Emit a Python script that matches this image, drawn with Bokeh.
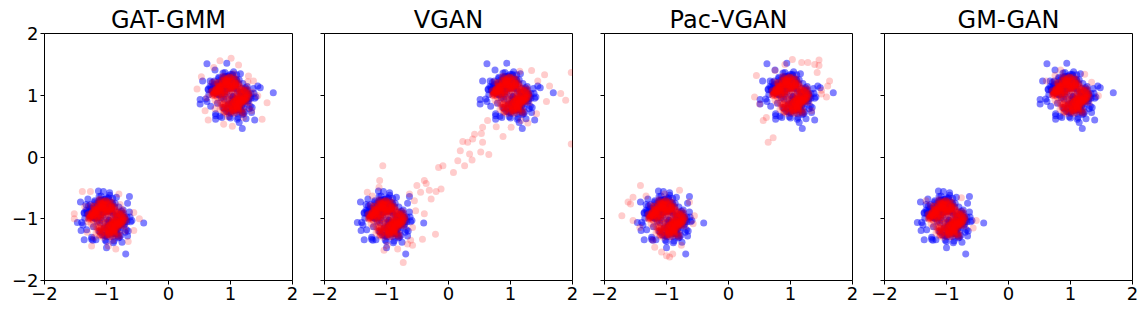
from bokeh.plotting import figure
from bokeh.layouts import row
from bokeh.models import Range1d, FixedTicker
from bokeh.embed import file_html
from bokeh.resources import INLINE

titles = ["GAT-GMM", "VGAN", "Pac-VGAN", "GM-GAN"]
ticks = [-2, -1, 0, 1, 2]
tick_labels = ["\u22122", "\u22121", "0", "1", "2"]

# the two modes of the mixture
mode_x = [1.0, -1.0]
mode_y = [1.0, -1.0]

# ---- real data (blue): sample spread around each mode ----
real_offset_x = [
    0.03, -0.12, 0.18, -0.05, 0.09, -0.22, 0.01, 0.14, -0.08, 0.27,
    -0.16, 0.06, -0.02, 0.11, -0.31, 0.20, -0.09, 0.04, 0.15, -0.13,
    0.00, 0.24, -0.19, 0.07, -0.04, 0.12, -0.26, 0.17, -0.07, 0.02,
    0.33, -0.11, 0.08, -0.17, 0.05, -0.01, 0.21, -0.14, 0.10, -0.24,
    -0.06, 0.13, -0.36, 0.16, 0.03, -0.20, 0.09, 0.29, -0.10, 0.06,
    -0.03, 0.19, -0.15, 0.01, 0.23, -0.08, 0.11, -0.28, 0.14, -0.02,
    0.07, -0.18, 0.26, -0.05, -0.12, 0.04, 0.38, -0.21, 0.02, 0.15,
    -0.09, 0.10, -0.33, 0.18, -0.01, 0.08, -0.16, 0.22, -0.04, 0.12,
    0.05, -0.25, 0.16, -0.07, 0.30, -0.13, 0.00, 0.09, -0.19, 0.41,
    -0.21, 0.08, 0.27, -0.03, 0.14, -0.30, 0.19, -0.12, 0.05, 0.33,
    -0.17, 0.24, -0.08, 0.11, -0.26, 0.02, 0.16, -0.35, 0.09, -0.14,
    0.29, -0.05, 0.13, -0.22, 0.21, -0.10, 0.04, 0.37, -0.19, 0.07,
    -0.31, 0.15, -0.02, 0.25, -0.13, 0.10, -0.40, 0.18, -0.06, 0.23,
    -0.11, 0.31, -0.24, 0.06, -0.16, 0.35, -0.04, 0.12, -0.28, 0.20,
    0.01, -0.18, 0.26, -0.09, 0.17, -0.33, 0.22, -0.01, 0.14, -0.23,
    0.32, -0.15, 0.03, -0.27, 0.28, -0.07, 0.09, -0.20, 0.39, -0.12,
    -0.03, 0.19, -0.36, 0.24, -0.10, 0.06, 0.30, -0.25, 0.11, -0.17,
    0.16, -0.29, 0.04, -0.08, 0.26, -0.21, 0.13, 0.34, -0.14, 0.00,
    -0.38, 0.21, -0.06, 0.18, -0.24, 0.08, -0.15, 0.29, -0.02, 0.15,
    -0.19, 0.12, 0.27, -0.11, 0.05, -0.32, 0.23, -0.04, 0.17, -0.26]
real_offset_y = [
    -0.08, 0.15, 0.04, -0.21, 0.11, 0.02, -0.14, 0.25, -0.03, 0.09,
    0.19, -0.06, -0.27, 0.07, 0.13, -0.11, 0.30, -0.02, -0.17, 0.05,
    0.12, -0.09, 0.01, 0.22, -0.15, -0.04, 0.08, -0.24, 0.16, -0.01,
    -0.05, 0.28, -0.12, 0.03, -0.19, 0.14, -0.07, 0.10, 0.24, -0.30,
    0.06, -0.16, 0.09, -0.03, 0.34, 0.18, -0.10, 0.02, -0.22, 0.13,
    -0.13, 0.04, 0.20, -0.26, 0.00, 0.11, -0.08, 0.15, 0.05, -0.35,
    0.17, 0.08, -0.02, 0.27, -0.20, -0.12, 0.03, 0.10, -0.06, -0.14,
    0.02, -0.29, 0.14, -0.07, 0.21, -0.18, 0.06, -0.01, 0.31, -0.09,
    0.10, 0.04, -0.23, 0.16, -0.05, 0.12, -0.37, 0.26, 0.01, -0.03,
    0.14, -0.25, 0.06, 0.31, -0.17, 0.09, -0.28, 0.20, -0.11, 0.03,
    -0.34, 0.12, 0.26, -0.07, 0.18, -0.21, 0.35, 0.01, -0.15, 0.24,
    -0.09, 0.29, -0.19, 0.04, -0.30, 0.16, -0.03, 0.11, 0.27, -0.13,
    0.08, -0.23, 0.21, -0.38, 0.13, 0.33, -0.06, -0.16, 0.22, -0.27,
    0.30, -0.02, 0.17, -0.12, 0.25, -0.20, 0.10, -0.36, 0.05, 0.19,
    -0.29, 0.15, -0.08, 0.37, -0.04, 0.23, -0.14, 0.28, -0.24, 0.07,
    -0.18, 0.02, 0.32, 0.13, -0.11, -0.26, 0.20, 0.09, -0.05, 0.36,
    0.24, -0.31, 0.10, -0.01, 0.16, 0.27, -0.22, 0.06, -0.39, 0.12,
    -0.07, 0.21, -0.16, 0.30, 0.03, -0.13, 0.19, -0.28, 0.08, 0.34,
    -0.10, -0.20, 0.25, 0.11, -0.33, 0.17, -0.04, 0.01, 0.22, -0.15,
    0.29, -0.24, 0.14, -0.06, 0.38, -0.18, 0.09, -0.27, 0.04, 0.23]
# isolated real points far from the centre of each mode
real_outlier_x = [0.62, 0.94, 1.69, 1.19, 1.14, 1.39, 0.51, 0.51, 0.55, 1.44,
                  1.48, 0.75, 0.76, 0.86,
                  -1.00, -0.69, -0.40, -0.63, -1.13, -1.42, -1.41, -1.36, -1.47,
                  -1.05, -0.95, -1.30, -0.66, -1.22]
real_outlier_y = [1.51, 1.52, 1.04, 0.46, 0.56, 0.60, 0.86, 0.93, 1.23, 1.15,
                  1.12, 1.41, 0.61, 0.64,
                  -1.47, -1.57, -1.07, -0.64, -0.55, -0.73, -1.19, -1.34, -1.06,
                  -0.56, -0.58, -0.68, -0.75, -1.35]

# ---- generated data (red): dense core of each mode ----
gen_offset_x = [
    0.02, -0.07, 0.11, -0.04, 0.15, -0.13, 0.06, -0.01, 0.09, -0.18,
    0.13, -0.03, -0.10, 0.05, 0.00, 0.20, -0.15, 0.08, -0.06, 0.03,
    -0.11, 0.07, 0.17, -0.02, -0.19, 0.10, 0.04, -0.08, 0.14, -0.05,
    0.01, -0.14, 0.06, 0.22, -0.09, 0.03, -0.04, 0.12, -0.16, 0.08,
    -0.01, 0.16, -0.12, 0.05, 0.09, -0.06, -0.21, 0.13, 0.02, -0.09,
    0.10, -0.05, 0.19, -0.13, 0.04, -0.02, 0.07, -0.17, 0.11, 0.00,
    -0.08, 0.14, 0.03, -0.10, 0.24, -0.03, 0.06, -0.14, 0.01, 0.12,
    0.05, -0.20, 0.09, -0.06, -0.01, 0.15, -0.11, 0.02, 0.18, -0.04,
    -0.12, 0.08, 0.00, 0.13, -0.07, -0.16, 0.10, 0.04, -0.03, 0.21,
    0.07, -0.09, -0.24, 0.11, 0.03, -0.05, 0.16, -0.02, -0.13, 0.06,
    0.12, -0.19, 0.05, 0.24, -0.08, -0.15, 0.20, -0.03, 0.09, -0.26,
    0.17, -0.11, -0.22, 0.01, 0.14, 0.28, -0.06, -0.17, 0.07, 0.21,
    -0.13, 0.03, -0.28, 0.18, -0.01, 0.11, -0.20, 0.25, -0.09, 0.06,
    -0.24, 0.16, 0.02, -0.14, 0.23, -0.05, 0.10, -0.18, 0.30, -0.10,
    0.04, -0.27, 0.19, -0.07, 0.13, -0.21, 0.26, 0.00, -0.12, 0.15,
    -0.16, 0.22, -0.04, 0.09, -0.30, 0.18, -0.02, 0.12, -0.23, 0.27,
    0.08, -0.09, 0.31, -0.19, 0.03, 0.16, -0.25, 0.06, -0.11, 0.20,
    -0.06, 0.13, -0.17, 0.24, -0.02, -0.29, 0.11, 0.19, -0.14, 0.05,
    0.23, -0.20, 0.08, -0.01, 0.17, -0.12, -0.26, 0.14, 0.02, -0.08,
    -0.18, 0.10, 0.26, -0.04, -0.22, 0.07, 0.15, -0.10, 0.21, -0.03,
    0.16, -0.04, -0.22, 0.11, 0.25, -0.14, 0.05, -0.27, 0.19, -0.08,
    -0.02, 0.14, -0.18, 0.22, -0.11, 0.07, -0.23, 0.02, 0.28, -0.15,
    0.09, -0.20, 0.17, -0.06, 0.12, -0.29, 0.04, 0.21, -0.12, 0.08,
    -0.17, 0.26, -0.01, -0.10, 0.18, -0.25, 0.14, -0.05, 0.06, 0.23,
    -0.19, 0.02, 0.11, -0.14, 0.30, -0.07, -0.21, 0.10, 0.05, -0.26,
    0.20, -0.09, 0.15, -0.02, -0.17, 0.26, -0.11, 0.08, -0.23, 0.13,
    0.03, -0.16, 0.23, -0.08, 0.17, -0.20, 0.00, 0.11, -0.28, 0.20,
    -0.05, 0.14, -0.13, 0.29, -0.03, -0.24, 0.09, 0.19, -0.09, 0.01,
    0.24, -0.18, 0.05, -0.11, 0.14, -0.22, 0.17, -0.02, 0.08, -0.14,
    -0.26, 0.12, 0.22, -0.06, 0.03, -0.17, 0.27, -0.08, 0.16, -0.20,
    0.10, -0.01, -0.15, 0.20, -0.11, 0.07, 0.25, -0.23, 0.02, 0.13,
    -0.07, 0.18, -0.27, 0.11, -0.04, 0.23, -0.14, 0.05, -0.19, 0.29,
    0.08, -0.10, 0.15, -0.25, 0.06, -0.03, 0.20, -0.16, 0.11, -0.05,
    -0.21, 0.26, 0.02, -0.12, 0.17, -0.08, 0.14, -0.29, 0.09, 0.21,
    -0.05, 0.04, -0.17, 0.12, -0.23, 0.17, -0.09, 0.26, -0.13, 0.00]
gen_offset_y = [
    -0.06, 0.10, 0.03, -0.15, 0.08, 0.01, -0.11, 0.17, -0.02, 0.05,
    0.12, -0.08, 0.04, -0.19, 0.14, -0.03, 0.07, -0.12, 0.00, 0.21,
    -0.04, 0.09, -0.13, 0.02, 0.06, -0.22, 0.11, -0.01, 0.15, -0.09,
    0.18, -0.05, -0.10, 0.07, -0.16, 0.13, 0.03, -0.07, 0.01, 0.10,
    -0.14, 0.04, 0.20, -0.02, -0.08, 0.12, -0.04, 0.16, -0.18, 0.06,
    0.02, -0.12, 0.08, 0.14, -0.21, -0.06, 0.19, 0.00, -0.09, 0.11,
    0.09, -0.03, -0.17, 0.06, 0.01, 0.15, -0.10, 0.04, 0.23, -0.07,
    -0.01, 0.13, -0.06, 0.18, -0.11, 0.05, -0.14, 0.08, 0.02, -0.20,
    0.07, -0.15, 0.11, -0.05, 0.16, 0.03, -0.09, -0.13, 0.12, 0.00,
    -0.10, 0.04, 0.06, -0.08, -0.23, 0.17, 0.01, 0.10, -0.04, 0.14,
    -0.20, 0.09, 0.26, -0.11, 0.17, 0.04, -0.24, 0.13, -0.06, 0.22,
    0.03, -0.28, 0.15, 0.10, -0.17, -0.02, 0.25, -0.13, 0.19, -0.08,
    0.29, -0.15, 0.07, -0.22, 0.12, -0.04, 0.20, -0.10, -0.26, 0.16,
    -0.01, 0.11, -0.19, 0.24, 0.05, -0.30, 0.14, 0.08, -0.12, 0.27,
    -0.23, 0.02, -0.09, 0.18, -0.27, 0.21, -0.05, -0.16, 0.31, -0.03,
    0.13, -0.06, 0.23, -0.20, 0.06, -0.11, 0.28, -0.24, 0.10, 0.00,
    -0.18, 0.25, -0.03, 0.15, -0.21, 0.09, -0.08, 0.30, -0.14, 0.04,
    0.19, -0.25, 0.12, -0.07, 0.22, 0.01, -0.16, -0.29, 0.16, -0.10,
    -0.04, 0.20, -0.12, 0.07, -0.26, 0.14, 0.03, -0.09, 0.24, -0.19,
    0.11, -0.22, 0.05, 0.17, -0.13, 0.26, -0.07, 0.08, -0.28, 0.18,
    -0.11, 0.23, 0.05, -0.19, 0.08, 0.17, -0.25, 0.02, -0.13, 0.21,
    0.29, -0.07, 0.14, -0.03, -0.20, 0.11, 0.06, -0.26, 0.09, -0.15,
    0.20, 0.04, -0.14, 0.26, -0.23, 0.00, 0.16, -0.08, 0.22, -0.18,
    0.12, -0.05, -0.28, 0.18, -0.10, 0.07, 0.20, -0.22, 0.14, -0.02,
    0.08, 0.27, -0.17, -0.11, 0.03, 0.23, 0.10, -0.20, -0.29, 0.05,
    -0.06, 0.25, -0.12, 0.15, -0.23, 0.02, 0.19, -0.14, 0.09, -0.21,
    0.26, 0.11, -0.05, -0.17, 0.13, 0.07, -0.26, 0.20, -0.01, -0.09,
    0.22, -0.16, 0.24, 0.03, -0.20, 0.10, 0.17, -0.08, -0.27, 0.14,
    -0.04, 0.14, -0.23, 0.20, -0.13, 0.05, -0.07, 0.30, 0.16, -0.20,
    0.02, -0.18, 0.08, 0.23, -0.25, 0.11, -0.02, 0.18, -0.11, 0.06,
    0.26, -0.22, 0.13, -0.06, 0.17, -0.29, 0.04, 0.09, 0.21, -0.14,
    -0.23, 0.08, 0.02, -0.19, 0.27, -0.08, 0.20, -0.12, 0.15, 0.01,
    0.17, -0.26, -0.09, 0.05, 0.23, -0.17, 0.11, 0.07, -0.21, 0.28,
    -0.02, 0.12, 0.20, -0.15, -0.05, 0.24, -0.18, 0.08, 0.19, -0.11,
    0.23, -0.26, 0.14, 0.00, 0.10, -0.07, 0.16, -0.03, -0.20, 0.29]

# ---- generated data (red): per-model scattered samples ----
gatgmm_spread_x = [1.01, 0.83, 1.13, 0.46, 1.59, 1.51, 0.64, 1.03, 1.37, 1.29, 0.53, 0.59,
                   0.89, 1.21, 1.44, 0.73, 0.62, 1.34, 0.70, 1.30, 0.75, 1.28, 0.68, 1.35,
                   1.05, 0.95,
                   -1.52, -1.52, -1.39, -1.26, -0.80, -0.56, -0.47, -0.56, -0.65, -0.85,
                   -0.97, -1.24, -1.31, -0.78, -1.35, -0.70, -1.20, -0.75, -1.30, -0.90,
                   -1.10, -0.68]
gatgmm_spread_y = [1.60, 1.56, 1.49, 1.10, 0.88, 0.61, 0.60, 0.50, 1.23, 1.31, 1.30, 0.75,
                   0.53, 0.64, 0.99, 1.45, 0.96, 0.75, 1.20, 0.80, 0.78, 1.22, 1.05, 1.05,
                   1.35, 0.65,
                   -0.92, -1.00, -0.56, -0.56, -0.60, -0.90, -1.00, -1.19, -1.37, -1.49,
                   -1.44, -1.44, -1.22, -0.77, -0.80, -1.20, -1.30, -0.85, -1.05, -1.35,
                   -0.68, -1.02]
vgan_spread_x = [1.98, 1.98, 1.89, 1.81, 1.55, 1.63, 1.58, 1.42, 1.28, 1.01, 0.88, 0.77,
                 0.63, 0.55, 0.53, 0.52, 0.65, 0.55, 0.42, 0.39, 0.31, 0.23, 0.19, 0.34,
                 0.26, 0.38, 0.15, 0.08, -0.09, -0.16, -0.12, -0.20, -0.31, -0.39, -0.36,
                 -0.28, -0.51, -0.45, -0.53, -0.39, -0.42, -0.21, -0.58, -0.73, -1.06,
                 -1.11, -0.63, -0.55, 1.15, 1.34, 1.44, 1.17,
                 -1.04, -0.82, -0.99, -0.66, -0.58, -1.31, -1.12, -1.23, -0.61]
vgan_spread_y = [1.37, 0.21, 0.92, 1.03, 1.33, 1.15, 0.90, 0.70, 0.55, 0.48, 0.33, 0.49,
                 0.59, 0.48, 0.38, 0.08, 0.04, 0.24, 0.37, 0.29, 0.24, 0.25, 0.10, 0.05,
                 -0.14, -0.05, -0.06, -0.25, -0.14, -0.17, -0.52, -0.56, -0.54, -0.38, -0.43,
                 -0.68, -0.46, -0.57, -0.87, -0.92, -1.33, -1.25, -1.43, -1.71, -0.14,
                 -0.38, -0.60, -0.71, 1.39, 1.40, 1.23, 0.59,
                 -1.51, -1.49, -1.43, -1.41, -1.14, -0.57, -0.49, -0.63, -1.35]
pacvgan_spread_x = [0.45, 0.42, 0.50, 0.64, 0.72, 0.61, 1.03, 1.18, 1.46, 1.39, 1.46, 1.63,
                    1.60, 1.58, 1.50, 1.43, 1.28, 0.91, 0.75, 1.50, 0.56, 1.34, 1.12,
                    -1.72, -1.58, -1.42, -1.54, -1.62, -1.54, -1.43, -1.33, -1.03, -0.79,
                    -0.63, -0.55, -0.57, -0.95, -1.00, -1.08, -0.90, -1.19, -0.76, -1.22]
pacvgan_spread_y = [1.32, 0.97, 0.86, 0.24, 0.31, 0.64, 1.58, 1.53, 1.57, 1.50, 1.48, 1.23,
                    1.15, 0.97, 1.02, 1.37, 1.53, 1.50, 1.40, 1.08, 0.59, 0.75, 0.70,
                    -0.95, -0.76, -0.46, -0.65, -0.73, -1.03, -1.14, -0.63, -0.60, -0.54,
                    -0.73, -0.95, -1.08, -1.62, -1.60, -1.54, -1.57, -1.46, -1.43, -1.35]
gmgan_spread_x = [1.45, 1.34, 0.61, 0.75, 0.84, 1.23, -0.52, -0.57, -0.76, -1.33, -0.82]
gmgan_spread_y = [0.99, 1.21, 1.23, 1.32, 1.41, 1.34, -1.03, -1.15, -0.66, -0.71, -1.25]

spread_x = [gatgmm_spread_x, vgan_spread_x, pacvgan_spread_x, gmgan_spread_x]
spread_y = [gatgmm_spread_y, vgan_spread_y, pacvgan_spread_y, gmgan_spread_y]

# points per mode = mode centre + sample offset
real_x = [cx + d for cx in mode_x for d in real_offset_x] + real_outlier_x
real_y = [cy + d for cy in mode_y for d in real_offset_y] + real_outlier_y
gen_core_x = [cx + d for cx in mode_x for d in gen_offset_x]
gen_core_y = [cy + d for cy in mode_y for d in gen_offset_y]

FONT = "DejaVu Sans"
FRAME = 248
borders = [(44, 16), (16, 16), (16, 16), (16, 8)]

figs = []
for i, t in enumerate(titles):
    left, right = borders[i]
    p = figure(width=left + FRAME + right, height=307,
               x_range=Range1d(-2, 2), y_range=Range1d(-2, 2),
               output_backend="svg", toolbar_location=None,
               min_border_left=left, min_border_right=right,
               min_border_top=33, min_border_bottom=27,
               title=t)
    p.title.text_font = FONT
    p.title.text_font_size = "24px"
    p.title.text_font_style = "normal"
    p.title.align = "center"
    p.title.text_color = "black"
    p.title.standoff = 0
    p.title.offset = 0

    p.scatter(real_x, real_y, size=7, fill_color="#0000ff", fill_alpha=0.5,
              line_color=None)
    p.scatter(spread_x[i] + gen_core_x, spread_y[i] + gen_core_y, size=7,
              fill_color="#ff0000", fill_alpha=0.2, line_color=None)

    p.grid.visible = False
    p.outline_line_color = "black"
    p.outline_line_width = 1
    p.outline_line_alpha = 1
    for ax in (p.xaxis[0], p.yaxis[0]):
        ax.ticker = FixedTicker(ticks=ticks)
        ax.minor_tick_line_color = None
        ax.major_tick_in = 0
        ax.major_tick_out = 4
        ax.major_tick_line_color = "black"
        ax.axis_line_color = "black"
        ax.major_label_standoff = 2
        ax.major_label_text_font = FONT
        ax.major_label_text_font_size = "18px"
        ax.major_label_text_color = "black"
    p.xaxis[0].major_label_overrides = {k: v for k, v in zip(ticks, tick_labels)}
    if i == 0:
        p.yaxis[0].major_label_overrides = {k: v for k, v in zip(ticks, tick_labels)}
    else:
        p.yaxis[0].major_label_overrides = {k: "" for k in ticks}
    figs.append(p)

layout = row(*figs, spacing=0)
open("out.html", "w").write(file_html(layout, INLINE))
